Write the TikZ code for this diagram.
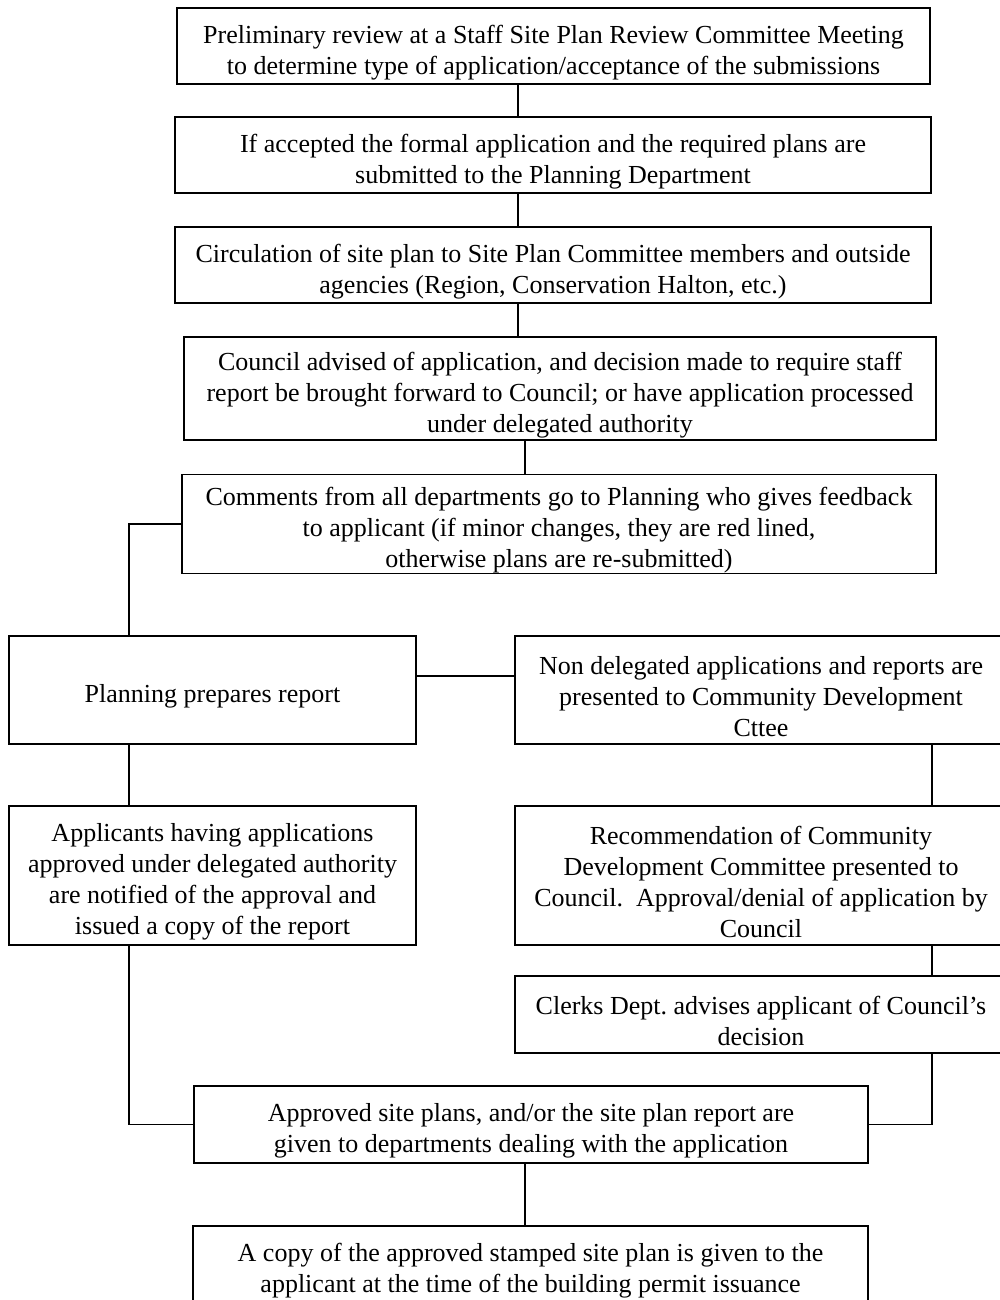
\documentclass[tikz,border=0pt]{standalone}
\usepackage{fontspec}
\setmainfont{Liberation Serif}
\usetikzlibrary{calc}

\newcommand{\lift}{\rule{0pt}{31pt}}
\tikzstyle{stage}=[draw,rectangle,line width=1.2pt,inner sep=0pt,align=center,font=\fontsize{26}{31}\selectfont\frenchspacing]
\tikzstyle{link}=[line width=1.2pt]

\begin{document}
\begin{tikzpicture}[x=1pt,y=-1pt]
	    	\useasboundingbox (0,0) rectangle (1000,1300);
	    	%The main column of stages
	    	\node[stage,minimum width=753pt,minimum height=76pt] (review) at (553.5,46) {\lift Preliminary review at a Staff Site Plan Review Committee Meeting\\to determine type of application/acceptance of the submissions};
	    	\node[stage,minimum width=756pt,minimum height=76pt] (formal) at (553,155) {\lift If accepted the formal application and the required plans are\\submitted to the Planning Department};
	    	\node[stage,minimum width=756pt,minimum height=76pt] (circulate) at (553,265) {\lift Circulation of site plan to Site Plan Committee members and outside\\agencies (Region, Conservation Halton, etc.)};
	    	\node[stage,minimum width=752pt,minimum height=103pt] (council) at (560,388.5) {\lift Council advised of application, and decision made to require staff\\report be brought forward to Council; or have application processed\\under delegated authority};
	    	\node[stage,minimum width=754pt,minimum height=98pt] (comments) at (559,524) {\lift Comments from all departments go to Planning who gives feedback\\to applicant (if minor changes, they are red lined,\\otherwise plans are re-submitted)};
	    	%The two branches
	    	\node[stage,minimum width=407pt,minimum height=108pt] (report) at (212.5,690) {\lift Planning prepares report};
	    	\node[stage,minimum width=492pt,minimum height=108pt] (nondeleg) at (761,690) {\lift Non delegated applications and reports are\\presented to Community Development\\Cttee};
	    	\node[stage,minimum width=407pt,minimum height=139pt] (notified) at (212.5,875.5) {\lift Applicants having applications\\approved under delegated authority\\are notified of the approval and\\issued a copy of the report};
	    	\node[stage,minimum width=492pt,minimum height=139pt] (recommend) at (761,875.5) {\lift Recommendation of Community\\Development Committee presented to\\Council.\ \ Approval/denial of application by\\Council};
	    	\node[stage,minimum width=492pt,minimum height=77pt] (clerks) at (761,1014.5) {\lift Clerks Dept. advises applicant of Council's\\decision};
	    	%Closing stages
	    	\node[stage,minimum width=674pt,minimum height=77pt] (approved) at (531,1124.5) {\lift Approved site plans, and/or the site plan report are\\given to departments dealing with the application};
	    	\node[stage,minimum width=675pt,minimum height=76pt] (stamped) at (530.5,1264) {\lift A copy of the approved stamped site plan is given to the\\applicant at the time of the building permit issuance};
	    	%Connectors
	    	\coordinate (spine) at (518,0);
	    	\coordinate (lower) at (525,0);
	    	\coordinate (west) at (129,0);
	    	\coordinate (east) at (932,0);
	    	\draw[link] (review.south -| spine) -- (formal.north -| spine);
	    	\draw[link] (formal.south -| spine) -- (circulate.north -| spine);
	    	\draw[link] (circulate.south -| spine) -- (council.north -| spine);
	    	\draw[link] (council.south -| lower) -- (comments.north -| lower);
	    	\draw[link] (comments.west) -| (report.north -| west);
	    	\draw[link] ($(report.east)+(0,-14)$) -- ($(nondeleg.west)+(0,-14)$);
	    	\draw[link] (report.south -| west) -- (notified.north -| west);
	    	\draw[link] (nondeleg.south -| east) -- (recommend.north -| east);
	    	\draw[link] (recommend.south -| east) -- (clerks.north -| east);
	    	\draw[link] (notified.south -| west) |- (approved.west);
	    	\draw[link] (clerks.south -| east) |- (approved.east);
	    	\draw[link] (approved.south -| lower) -- (stamped.north -| lower);
	    \end{tikzpicture}
\end{document}
